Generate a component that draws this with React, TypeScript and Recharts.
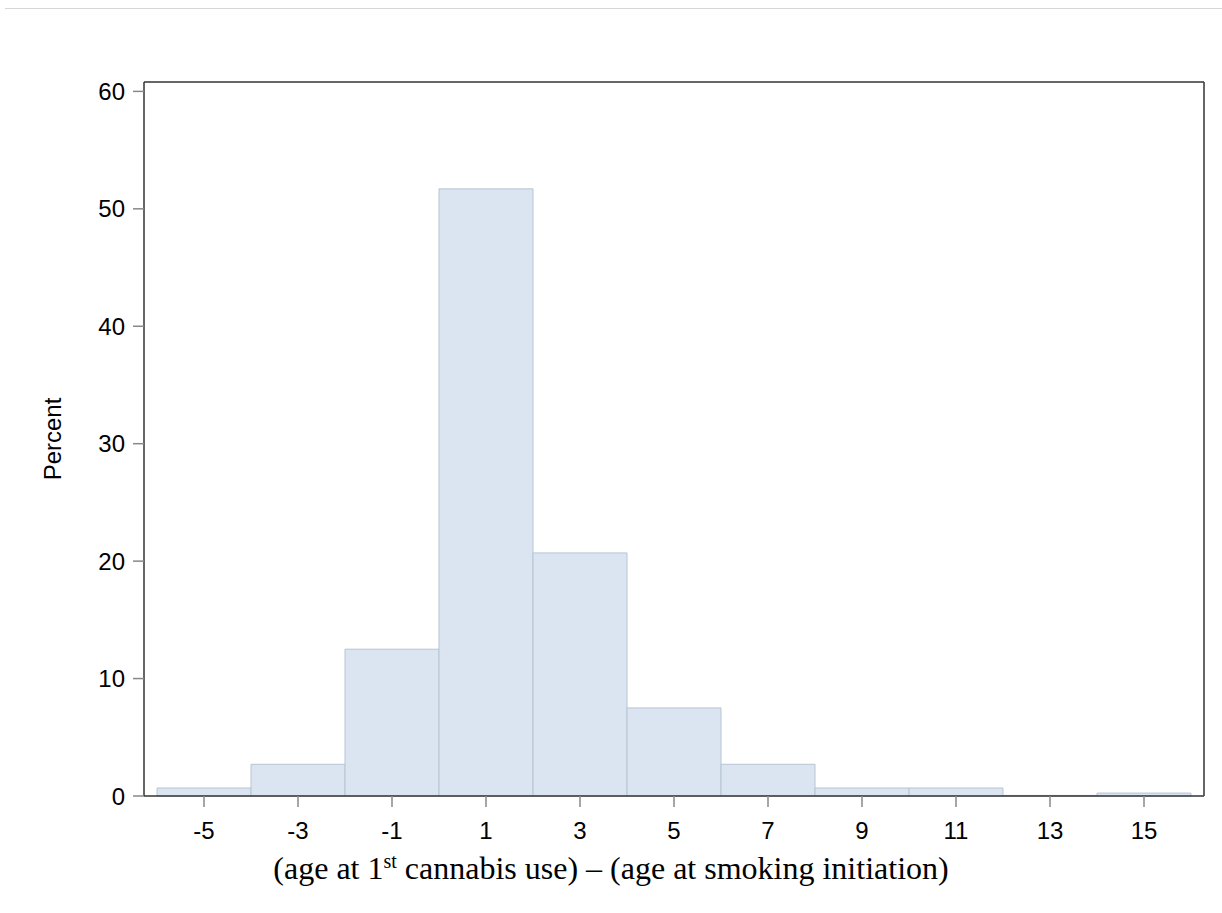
import { Bar, BarChart, XAxis, YAxis } from "recharts";

// bins of width 2, labelled by their midpoint
const binMids = ["-5", "-3", "-1", "1", "3", "5", "7", "9", "11", "13", "15"];
const percents = [0.68, 2.7, 12.5, 51.7, 20.7, 7.5, 2.7, 0.68, 0.68, 0.05, 0.25];
const yTicks = [0, 10, 20, 30, 40, 50, 60];

const data = binMids.map((m, i) => ({ mid: m, pct: percents[i] }));

function XTitle(props: any) {
  const vb = props.viewBox || {};
  const cx = vb.x + vb.width / 2 - 63;
  return (
    <text x={cx} y={vb.y + 83} textAnchor="middle" fontFamily="'Liberation Serif', 'Times New Roman', serif" fontSize={32} fill="#000">
      <tspan>(age at 1</tspan>
      <tspan dy={-11} fontSize={20}>st</tspan>
      <tspan dy={11}> cannabis use) – (age at smoking initiation)</tspan>
    </text>
  );
}

export default function App() {
  return (
    <div style={{ position: "absolute", left: 0, top: 0, width: 1222, height: 913, background: "#fff" }}>
      <div style={{ position: "absolute", left: 5, top: 8, width: 1217, borderTop: "1px solid #d6d6d6" }} />
      <BarChart
        width={1222}
        height={913}
        data={data}
        barCategoryGap={0}
        margin={{ top: 81, right: 17, bottom: 57, left: 84 }}
        style={{ fontFamily: "'Liberation Sans', Arial, sans-serif" }}
      >
        <XAxis
          dataKey="mid"
          padding={{ left: 13, right: 13 }}
          height={60}
          axisLine={{ stroke: "#333", strokeWidth: 1.5 }}
          tickLine={{ stroke: "#888", strokeWidth: 1.5 }}
          tickSize={11}
          tickMargin={15}
          tick={{ fill: "#000", fontSize: 24 }}
          interval={0}
          label={{ content: XTitle }}
        />
        <XAxis
          xAxisId="top"
          orientation="top"
          dataKey="mid"
          height={1}
          tick={false}
          tickLine={false}
          axisLine={{ stroke: "#333", strokeWidth: 1.5 }}
        />
        <YAxis
          domain={[0, 60.8]}
          ticks={yTicks}
          width={60}
          axisLine={{ stroke: "#333", strokeWidth: 1.5 }}
          tickLine={{ stroke: "#888", strokeWidth: 1.5 }}
          tickSize={11}
          tickMargin={8}
          tick={{ fill: "#000", fontSize: 24 }}
          label={{ value: "Percent", angle: -90, position: "insideLeft", offset: -32, style: { fill: "#000", fontSize: 24, textAnchor: "middle" } }}
        />
        <YAxis
          yAxisId="right"
          orientation="right"
          domain={[0, 60.8]}
          width={1}
          tick={false}
          tickLine={false}
          axisLine={{ stroke: "#333", strokeWidth: 1.5 }}
        />
        <Bar dataKey="pct" fill="#dbe5f1" stroke="#b7c4d2" strokeWidth={1} isAnimationActive={false} />
      </BarChart>
    </div>
  );
}
